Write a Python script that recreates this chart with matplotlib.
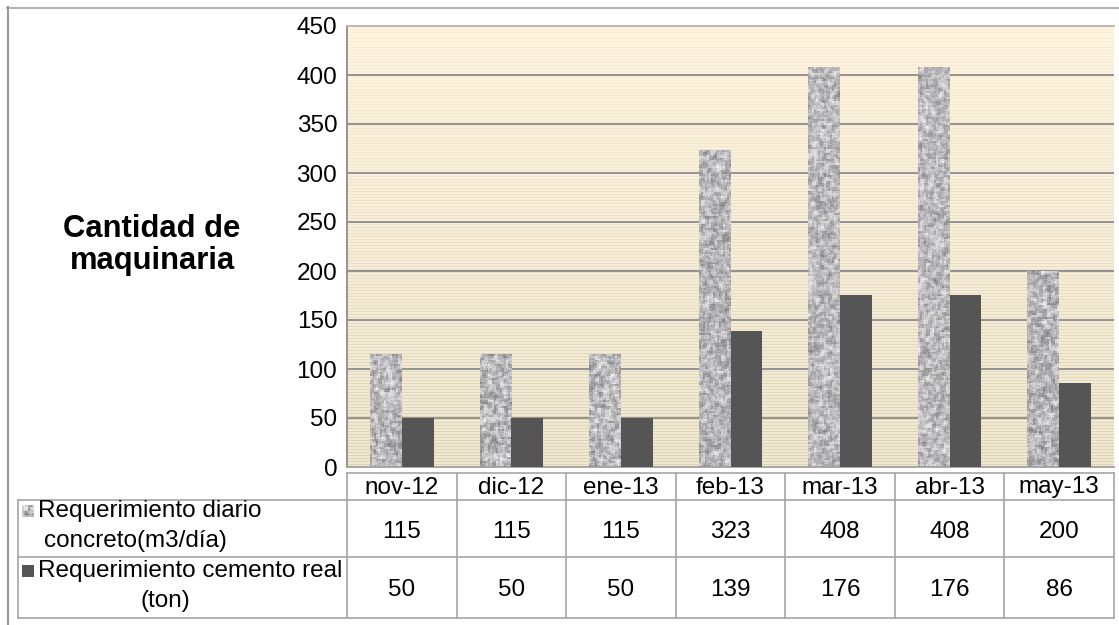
import numpy as np
import matplotlib
matplotlib.use("Agg")
from matplotlib import pyplot as plt
from matplotlib.patches import Rectangle
from matplotlib.lines import Line2D

plt.rcParams['font.family'] = ['Liberation Sans', 'DejaVu Sans']

# data
meses = ['nov-12', 'dic-12', 'ene-13', 'feb-13', 'mar-13', 'abr-13', 'may-13']
concreto_m3_dia = [115, 115, 115, 323, 408, 408, 200]
cemento_ton = [50, 50, 50, 139, 176, 176, 86]
serie_labels = [('Requerimiento diario', 'concreto(m3/día)'),
                ('Requerimiento cemento real', '(ton)')]
y_ticks = list(range(0, 451, 50))

W, H = 1119, 625
FS = 17.5
fig = plt.figure(figsize=(W / 100, H / 100), dpi=100)
fig.patch.set_facecolor('white')


def fx(px):
    return px / W


def fy(py):
    return 1 - py / H


rng = np.random.default_rng(7)


def granito(rows, cols):
    # speckled grey texture for the concrete bars (2px grain)
    r2, c2 = rows // 2 + 3, cols // 2 + 3
    base = rng.random((r2, c2))
    sm = (base[:-2, 1:-1] + base[2:, 1:-1] + base[1:-1, :-2] + base[1:-1, 2:] + 3 * base[1:-1, 1:-1]) / 7
    sm = np.repeat(np.repeat(sm, 2, axis=0), 2, axis=1)[:rows, :cols]
    fine = rng.random(sm.shape)
    sm = 0.8 * sm + 0.2 * fine
    sm = (sm - sm.min()) / (sm.max() - sm.min())
    g = 0.48 + 0.5 * sm
    return np.dstack([g, g, g * 1.01]).clip(0, 1)


# plot area
x_left, x_right, y_top, y_bot = 347, 1114, 26, 467
ax = fig.add_axes([fx(x_left), fy(y_bot), fx(x_right - x_left), (y_bot - y_top) / H])
ax.set_xlim(-0.5, len(meses) - 0.5)
ax.set_ylim(0, 450)

# cream striped background
nrows = y_bot - y_top
t = np.linspace(0, 1, nrows)[:, None]
top_c = np.array([0.996, 0.957, 0.878])
bot_c = np.array([0.935, 0.910, 0.835])
bg = top_c * (1 - t) + bot_c * t
stripe = ((np.arange(nrows) % 3) == 0)[:, None]
strength = 0.025 + 0.08 * t
bg = bg - stripe * strength * np.array([0.6, 0.8, 1.4])
bg = np.repeat(bg[:, None, :], 4, axis=1).clip(0, 1)
ax.imshow(bg, extent=(-0.5, len(meses) - 0.5, 0, 450), aspect='auto', zorder=0, interpolation='nearest')

for yv in y_ticks[1:-1]:
    ax.axhline(yv, color='#8c8c8c', lw=1.3, zorder=1)

ancho = 0.29
for i, (v1, v2) in enumerate(zip(concreto_m3_dia, cemento_ton)):
    x0 = i - ancho
    rect = Rectangle((x0, 0), ancho, v1, facecolor='none', edgecolor='none', zorder=2)
    ax.add_patch(rect)
    img = ax.imshow(granito(int(v1 * 0.98), 32), extent=(x0, x0 + ancho, 0, v1),
                    aspect='auto', zorder=2, interpolation='nearest')
    img.set_clip_path(rect)
    ax.bar(i + ancho / 2, v2, width=ancho, color='#555555', zorder=3)

ax.set_yticks(y_ticks)
ax.set_xticks([])
ax.tick_params(axis='y', length=0, pad=7, labelsize=FS)
ax.spines['right'].set_visible(False)
ax.spines['left'].set_color('#8c8c8c')
ax.spines['top'].set_color('#b4b4b4')
ax.spines['bottom'].set_color('#a0a0a0')
for s in ax.spines.values():
    s.set_linewidth(1.3)
ax.set_ylim(0, 450)

fig.text(fx(152), fy(245), 'Cantidad de\nmaquinaria', ha='center', va='center',
         fontsize=22.3, fontweight='bold', linespacing=1.1)

# outer frame
grid_c = '#a6a6a6'
fig.add_artist(Line2D([fx(7), 1], [fy(7.5), fy(7.5)], color='#b4b4b4', lw=1.5))
fig.add_artist(Line2D([fx(7.5), fx(7.5)], [fy(7), 0], color='#9a9a9a', lw=1.5))

# data table below the axis
col_w = (x_right - x_left) / len(meses)
cols = [x_left + k * col_w for k in range(len(meses) + 1)]
r_head, r1, r2, r_end = 473, 500, 557, 618
tab_left = 18


def hline(x0, x1, y):
    fig.add_artist(Line2D([fx(x0), fx(x1)], [fy(y), fy(y)], color=grid_c, lw=1.2))


def vline(x, y0, y1):
    fig.add_artist(Line2D([fx(x), fx(x)], [fy(y0), fy(y1)], color=grid_c, lw=1.2))


hline(x_left, x_right, r_head)
hline(tab_left, x_right, r1)
hline(tab_left, x_right, r2)
hline(tab_left, x_right, r_end)
vline(tab_left, r1, r_end)
for c in cols:
    vline(c, r_head, r_end)

for k, mes in enumerate(meses):
    cx = (cols[k] + cols[k + 1]) / 2
    fig.text(fx(cx), fy((r_head + r1) / 2 + 1), mes, ha='center', va='center', fontsize=FS)
    fig.text(fx(cx), fy((r1 + r2) / 2 + 3), str(concreto_m3_dia[k]), ha='center', va='center', fontsize=FS)
    fig.text(fx(cx), fy((r2 + r_end) / 2 + 3), str(cemento_ton[k]), ha='center', va='center', fontsize=FS)

# row headers with legend keys
key1 = fig.add_axes([fx(22), fy(517), fx(12), 12 / H])
key1.imshow(granito(12, 12), aspect='auto', interpolation='nearest')
key1.axis('off')
fig.add_artist(Rectangle((fx(22), fy(577)), fx(12), 12 / H, transform=fig.transFigure,
                         facecolor='#555555', edgecolor='none'))

fig.text(fx(38), fy(511), serie_labels[0][0], ha='left', va='center', fontsize=FS)
fig.text(fx(135), fy(541), serie_labels[0][1], ha='center', va='center', fontsize=FS)
fig.text(fx(38), fy(571), serie_labels[1][0], ha='left', va='center', fontsize=FS)
fig.text(fx(165), fy(601), serie_labels[1][1], ha='center', va='center', fontsize=FS)

fig.savefig('out.png', dpi=100)
